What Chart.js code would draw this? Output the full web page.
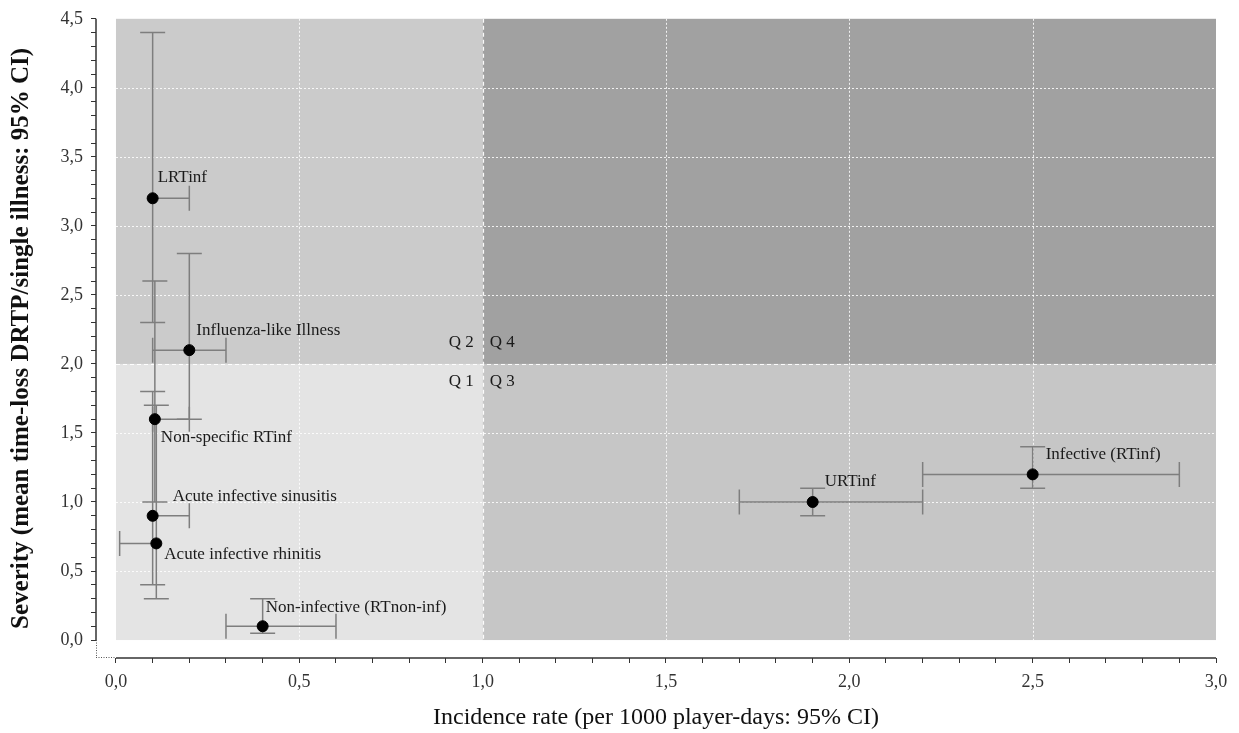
<!DOCTYPE html>
<html>
<head>
<meta charset="utf-8">
<script src="https://cdn.jsdelivr.net/npm/chart.js@4.4.1/dist/chart.umd.min.js"></script>
<style>
html,body{margin:0;padding:0;background:#fff;}
#wrap{width:1239px;height:733px;}
</style>
</head>
<body>
<div id="wrap"><canvas id="c" width="1239" height="733"></canvas></div>
<script>
// ---- data ----
const categories = ["LRTinf","Influenza-like Illness","Non-specific RTinf","Acute infective sinusitis","Acute infective rhinitis","Non-infective (RTnon-inf)","URTinf","Infective (RTinf)"];
const incidence   = [0.10, 0.20, 0.106, 0.10, 0.11, 0.40, 1.90, 2.50];
const incidenceLo = [0.10, 0.10, 0.10, 0.10, 0.01, 0.30, 1.70, 2.20];
const incidenceHi = [0.20, 0.30, 0.20, 0.20, 0.11, 0.60, 2.20, 2.90];
const severity    = [3.20, 2.10, 1.60, 0.90, 0.70, 0.10, 1.00, 1.20];
const severityLo  = [2.30, 1.60, 1.00, 0.40, 0.30, 0.05, 0.90, 1.10];
const severityHi  = [4.40, 2.80, 2.60, 1.80, 1.70, 0.30, 1.10, 1.40];
const quadrantLabels = ["Q1","Q2","Q3","Q4"];
const xTitle = "Incidence rate (per 1000 player-days: 95% CI)";
const yTitle = "Severity (mean time-loss DRTP/single illness: 95% CI)";
const xSplit = 1.0, ySplit = 2.0;
const xMax = 3.0, yMax = 4.5;
const tickStep = 0.1;

// label placement (pixel offsets from the point), style only
const labelOffsets = [[5,-21],[7,-20],[6,18],[20,-19],[8,11],[3,-19],[12,-20],[13,-20]];

const fmt = v => v.toFixed(1).replace('.', ',');
const isHalf = v => Math.abs(v*2 - Math.round(v*2)) < 1e-6;
const SERIF = '"Liberation Serif", "DejaVu Serif", serif';

const tickList = maxV => {
  const out = [];
  const n = Math.round(maxV / tickStep);
  for (let k = 0; k <= n; k++) out.push({value: Math.round(k * tickStep * 10) / 10});
  return out;
};

const backgroundPlugin = {
  id: 'bg',
  beforeDatasetsDraw(chart) {
    const {ctx, scales:{x, y}} = chart;
    const x0 = x.getPixelForValue(0), x1 = x.getPixelForValue(xSplit), x2 = x.getPixelForValue(xMax);
    const y0 = y.getPixelForValue(0), y1 = y.getPixelForValue(ySplit), y2 = y.getPixelForValue(yMax);
    ctx.save();
    ctx.fillStyle = '#e4e4e4'; ctx.fillRect(x0, y1, x1-x0, y0-y1);   // Q1
    ctx.fillStyle = '#cbcbcb'; ctx.fillRect(x0, y2, x1-x0, y1-y2);   // Q2
    ctx.fillStyle = '#c6c6c6'; ctx.fillRect(x1, y1, x2-x1, y0-y1);   // Q3
    ctx.fillStyle = '#a1a1a1'; ctx.fillRect(x1, y2, x2-x1, y1-y2);   // Q4
    // dotted grid
    ctx.strokeStyle = 'rgba(255,255,255,0.85)';
    ctx.lineWidth = 1;
    ctx.setLineDash([2,2]);
    x.ticks.forEach(t => {
      if (isHalf(t.value) && t.value > 0 && t.value < xMax && Math.abs(t.value - xSplit) > 1e-6) {
        const px = Math.round(x.getPixelForValue(t.value)) + 0.5;
        ctx.beginPath(); ctx.moveTo(px, y2); ctx.lineTo(px, y0); ctx.stroke();
      }
    });
    y.ticks.forEach(t => {
      if (isHalf(t.value) && t.value > 0 && t.value < yMax && Math.abs(t.value - ySplit) > 1e-6) {
        const py = Math.round(y.getPixelForValue(t.value)) + 0.5;
        ctx.beginPath(); ctx.moveTo(x0, py); ctx.lineTo(x2, py); ctx.stroke();
      }
    });
    // dashed dividers
    ctx.strokeStyle = 'rgba(255,255,255,0.95)';
    ctx.setLineDash([4,3]);
    ctx.lineWidth = 1.2;
    ctx.beginPath(); ctx.moveTo(Math.round(x1)+0.5, y2); ctx.lineTo(Math.round(x1)+0.5, y0); ctx.stroke();
    ctx.beginPath(); ctx.moveTo(x0, Math.round(y1)+0.5); ctx.lineTo(x2, Math.round(y1)+0.5); ctx.stroke();
    ctx.setLineDash([]);
    // axis lines
    const ca = chart.chartArea;
    ctx.strokeStyle = '#333';
    ctx.lineWidth = 1.5;
    ctx.beginPath(); ctx.moveTo(x0, ca.bottom); ctx.lineTo(x2, ca.bottom); ctx.stroke();
    ctx.beginPath(); ctx.moveTo(ca.left, y2); ctx.lineTo(ca.left, y0); ctx.stroke();
    ctx.setLineDash([1,1.5]);
    ctx.lineWidth = 1;
    ctx.strokeStyle = '#555';
    ctx.beginPath(); ctx.moveTo(ca.left, ca.bottom - 0.5); ctx.lineTo(x0, ca.bottom - 0.5); ctx.stroke();
    ctx.beginPath(); ctx.moveTo(ca.left + 0.5, y0); ctx.lineTo(ca.left + 0.5, ca.bottom); ctx.stroke();
    ctx.setLineDash([]);
    // error bars
    const cap = 12.5;
    ctx.strokeStyle = '#7e7e7e';
    ctx.lineWidth = 1.5;
    for (let i = 0; i < categories.length; i++) {
      const px = x.getPixelForValue(incidence[i]);
      const py = y.getPixelForValue(severity[i]);
      const xl = x.getPixelForValue(incidenceLo[i]), xh = x.getPixelForValue(incidenceHi[i]);
      const yl = y.getPixelForValue(severityLo[i]), yh = y.getPixelForValue(severityHi[i]);
      ctx.beginPath();
      ctx.moveTo(xl, py); ctx.lineTo(xh, py);
      ctx.moveTo(xl, py-cap); ctx.lineTo(xl, py+cap);
      ctx.moveTo(xh, py-cap); ctx.lineTo(xh, py+cap);
      ctx.moveTo(px, yl); ctx.lineTo(px, yh);
      ctx.moveTo(px-cap, yl); ctx.lineTo(px+cap, yl);
      ctx.moveTo(px-cap, yh); ctx.lineTo(px+cap, yh);
      ctx.stroke();
    }
    ctx.restore();
  },
  afterDatasetsDraw(chart) {
    const {ctx, scales:{x, y}} = chart;
    ctx.save();
    ctx.fillStyle = '#1a1a1a';
    ctx.font = '17px ' + SERIF;
    ctx.textBaseline = 'middle';
    ctx.textAlign = 'left';
    for (let i = 0; i < categories.length; i++) {
      const px = x.getPixelForValue(incidence[i]);
      const py = y.getPixelForValue(severity[i]);
      ctx.fillText(categories[i], px + labelOffsets[i][0], py + labelOffsets[i][1]);
    }
    const cx = x.getPixelForValue(xSplit), cy = y.getPixelForValue(ySplit);
    ctx.font = '17px ' + SERIF;
    ctx.textAlign = 'right';
    ctx.fillText(quadrantLabels[1].split('').join(' '), cx - 9, cy - 21);
    ctx.fillText(quadrantLabels[0].split('').join(' '), cx - 9, cy + 18);
    ctx.textAlign = 'left';
    ctx.fillText(quadrantLabels[3].split('').join(' '), cx + 7, cy - 21);
    ctx.fillText(quadrantLabels[2].split('').join(' '), cx + 7, cy + 18);
    ctx.restore();
  }
};

new Chart(document.getElementById('c'), {
  type: 'scatter',
  data: {
    datasets: [{
      data: incidence.map((v, i) => ({x: v, y: severity[i]})),
      backgroundColor: '#000',
      borderColor: '#000',
      pointRadius: 5.5,
      pointHoverRadius: 5.5
    }]
  },
  options: {
    responsive: false,
    animation: false,
    events: [],
    layout: {padding: {top: 18, right: 23, left: 0, bottom: 0}},
    plugins: {legend: {display: false}, tooltip: {enabled: false}},
    scales: {
      x: {
        type: 'linear',
        min: -0.0545, max: xMax,
        afterBuildTicks: s => { s.ticks = tickList(xMax); },
        afterFit: s => { s.height = 75; },
        border: {display: false},
        grid: {drawOnChartArea: false, drawTicks: true, tickLength: 5, color: '#333', lineWidth: 1},
        ticks: {
          autoSkip: false, maxRotation: 0, minRotation: 0, padding: 8,
          color: '#333', font: {family: SERIF, size: 18},
          callback: v => isHalf(v) ? fmt(v) : ''
        },
        title: {display: true, text: xTitle, color: '#111', font: {family: SERIF, size: 24}, padding: {top: 0, bottom: 1}}
      },
      y: {
        type: 'linear',
        min: -0.13, max: yMax,
        afterBuildTicks: s => { s.ticks = tickList(yMax); },
        afterFit: s => { s.width = 96; },
        border: {display: false},
        grid: {drawOnChartArea: false, drawTicks: true, tickLength: 5, color: '#333', lineWidth: 1},
        ticks: {
          autoSkip: false, padding: 8,
          color: '#333', font: {family: SERIF, size: 18},
          callback: v => isHalf(v) ? fmt(v) : ''
        },
        title: {display: true, text: yTitle, color: '#111', font: {family: SERIF, size: 25, weight: 'bold'}, padding: {top: 7, bottom: 0}}
      }
    }
  },
  plugins: [backgroundPlugin]
});
</script>
</body>
</html>
